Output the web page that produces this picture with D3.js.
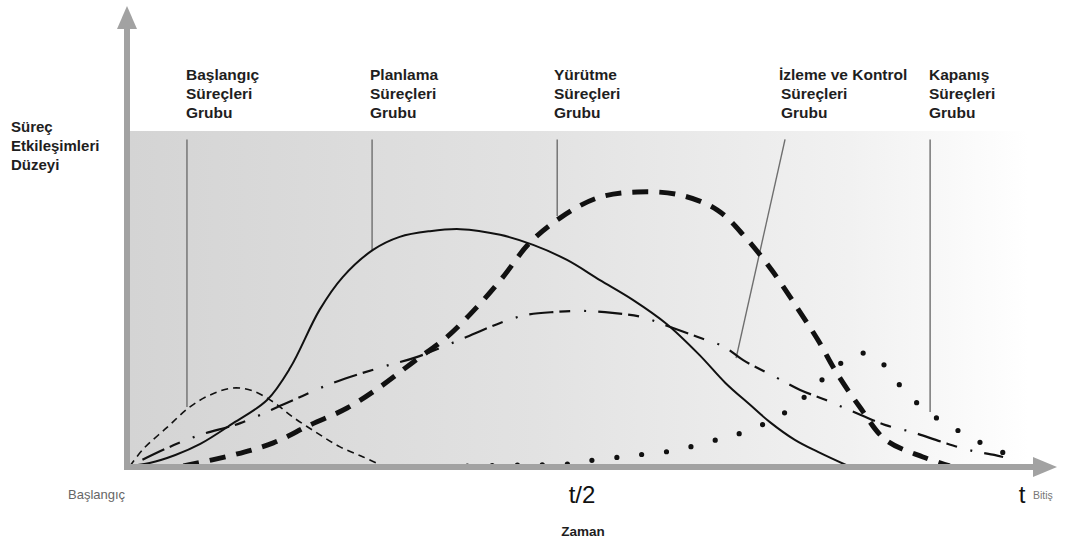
<!DOCTYPE html>
<html>
<head>
<meta charset="utf-8">
<script src="https://cdn.jsdelivr.net/npm/d3@7"></script>
<style>
html,body{margin:0;padding:0;background:#fff;}
svg{display:block;}
text{font-family:"Liberation Sans",Arial,Helvetica,sans-serif;}
</style>
</head>
<body>
<svg id="chart" width="1084" height="543"></svg>
<script>
// ---------- DATA ----------
// time as fraction of total duration t, level as % of chart height
const baslangicX = [0, .015, .042, .067, .090, .116, .138, .161, .183, .210, .236, .262, .284];
const baslangicY = [0, 5.1, 11.6, 17.6, 21.2, 23.3, 22.4, 19.1, 14.6, 9.9, 5.7, 2.7, 0];

const planlamaX = [0, .022, .051, .079, .116, .154, .180, .213, .239, .273, .303, .337, .371, .416, .453, .491, .528, .565, .603, .640, .669, .697, .719, .747, .773, .807];
const planlamaY = [0, .9, 3.3, 6.6, 12.8, 19.7, 29.3, 46.6, 56.4, 64.5, 68.4, 70.1, 70.7, 69.0, 66.0, 61.5, 55.5, 49.6, 42.4, 33.1, 24.8, 18.2, 13.1, 7.8, 4.2, 0];

const yurutmeX = [.060, .116, .161, .202, .244, .281, .318, .356, .390, .419, .449, .483, .525, .570, .618, .660, .691, .721, .749, .773, .794, .820, .849, .891, .921];
const yurutmeY = [0, 3.3, 6.9, 12.2, 17.3, 23.6, 31.0, 38.5, 47.5, 56.4, 66.6, 74.0, 80.0, 81.8, 80.9, 76.4, 68.4, 58.5, 47.5, 37.6, 27.8, 17.6, 7.8, 2.7, 0];

const izlemeX = [0, .042, .079, .124, .176, .228, .284, .322, .378, .416, .445, .479, .507, .542, .575, .601, .638, .668, .689, .727, .753, .782, .816, .849, .879, .912, .942, .971, .981];
const izlemeY = [0, 5.4, 9.3, 12.8, 18.8, 24.8, 29.6, 32.5, 38.5, 42.7, 45.1, 46.0, 46.3, 45.7, 44.5, 42.1, 38.5, 35.5, 31.6, 26.3, 22.7, 19.7, 15.8, 12.2, 10.1, 7.2, 4.8, 3.3, 2.7];

const kapanisX = [.379, .437, .493, .522, .552, .580, .609, .638, .667, .693, .721, .745, .766, .787, .809, .824, .839, .857, .876, .898, .922, .947, .974, 1.001];
const kapanisY = [0, .3, .6, 1.8, 2.7, 3.6, 4.5, 6.3, 8.4, 10.4, 13.7, 17.6, 22.7, 28.1, 32.5, 33.7, 32.5, 26.6, 20.9, 15.8, 11.9, 8.1, 4.8, 1.8];

const groupLabels = [
  ["Başlangıç", "Süreçleri", "Grubu"],
  ["Planlama", "Süreçleri", "Grubu"],
  ["Yürütme", "Süreçleri", "Grubu"],
  ["İzleme ve Kontrol", "Süreçleri", "Grubu"],
  ["Kapanış", "Süreçleri", "Grubu"]
];
const yLabel = ["Süreç", "Etkileşimleri", "Düzeyi"];
const xTickLabels = ["t/2", "t"];
const xTickValues = [0.5, 1];
const startLabel = "Başlangıç";
const endLabel = "Bitiş";
const xTitle = "Zaman";

// leader lines: line top x, curve point (data units)
const leaderTopX = [.064, .272, .480, .736, .899];
const leaderEndX = [.064, .272, .480, .681, .899];
const leaderEndY = [17.6, 64.5, 74.6, 32.2, 16.1];

// ---------- LAYOUT ----------
const svg = d3.select("#chart");
const x = d3.scaleLinear().domain([0, 1]).range([130, 1020]);
const y = d3.scaleLinear().domain([0, 100]).range([466, 131]);

const defs = svg.append("defs");
const grad = defs.append("linearGradient").attr("id", "bg").attr("x1", "0").attr("x2", "1").attr("y1", "0").attr("y2", "0");
grad.append("stop").attr("offset", "0%").attr("stop-color", "#d4d4d4");
grad.append("stop").attr("offset", "45%").attr("stop-color", "#e2e2e2");
grad.append("stop").attr("offset", "80%").attr("stop-color", "#f1f1f1");
grad.append("stop").attr("offset", "100%").attr("stop-color", "#ffffff");

svg.append("rect")
  .attr("x", x(0)).attr("y", y(100))
  .attr("width", x(1.01) - x(0)).attr("height", y(0) - y(100))
  .attr("fill", "url(#bg)");

// leader lines
const topY = y(97.5);
leaderTopX.forEach((tx, i) => {
  svg.append("line")
    .attr("x1", x(tx)).attr("y1", topY)
    .attr("x2", x(leaderEndX[i])).attr("y2", y(leaderEndY[i]))
    .attr("stroke", "#6e6e6e").attr("stroke-width", 1.4);
});

// curves
const line = d3.line().x(d => x(d[0])).y(d => y(d[1])).curve(d3.curveCatmullRom.alpha(0.5));
const zip = (a, b) => a.map((v, i) => [v, b[i]]);

const series = [
  {pts: zip(baslangicX, baslangicY), w: 1.6, dash: "7 5", cap: "butt"},
  {pts: zip(planlamaX, planlamaY), w: 2, dash: null, cap: "butt"},
  {pts: zip(izlemeX, izlemeY), w: 2.2, dash: "2 12 24 6 11 14", cap: "butt"},
  {pts: zip(yurutmeX, yurutmeY), w: 5, dash: "16 11", cap: "butt"},
  {pts: zip(kapanisX, kapanisY), w: 5.2, dash: "0 25", cap: "round"}
];
series.forEach(s => {
  svg.append("path")
    .attr("d", line(s.pts))
    .attr("fill", "none")
    .attr("stroke", "#111")
    .attr("stroke-width", s.w)
    .attr("stroke-linecap", s.cap)
    .attr("stroke-dasharray", s.dash);
});

// axes (arrows)
const axisColor = "#a2a2a2";
svg.append("line").attr("x1", 127).attr("x2", 127).attr("y1", 26).attr("y2", 470)
  .attr("stroke", axisColor).attr("stroke-width", 6);
svg.append("path").attr("d", "M127,6 L137,29 L117,29 Z").attr("fill", axisColor);
svg.append("line").attr("x1", 124).attr("x2", 1036).attr("y1", 467).attr("y2", 467)
  .attr("stroke", axisColor).attr("stroke-width", 6);
svg.append("path").attr("d", "M1057,467 L1033,457 L1033,477 Z").attr("fill", axisColor);

// group labels
const labelX = [186, 370, 554, 779, 929];
groupLabels.forEach((lines, i) => {
  const t = svg.append("text").attr("font-size", 15.5).attr("font-weight", "bold").attr("fill", "#1e1e1e");
  lines.forEach((l, j) => {
    t.append("tspan").attr("x", labelX[i] + (i === 3 && j > 0 ? 2 : 0)).attr("y", 80 + j * 19).text(l);
  });
});

// y label
const yl = svg.append("text").attr("font-size", 15).attr("font-weight", "bold").attr("fill", "#1e1e1e");
yLabel.forEach((l, j) => yl.append("tspan").attr("x", 11).attr("y", 132 + j * 19).text(l));

// x ticks
xTickLabels.forEach((l, i) => {
  svg.append("text").attr("x", x(xTickValues[i]) + (i === 0 ? 7 : 2)).attr("y", 503)
    .attr("text-anchor", "middle").attr("font-size", 24)
    .attr("font-family", "'Liberation Sans Narrow','Liberation Sans',Arial,sans-serif")
    .attr("fill", "#111").text(l);
});
svg.append("text").attr("x", 68).attr("y", 499).attr("font-size", 13).attr("fill", "#666").text(startLabel);
svg.append("text").attr("x", 1033).attr("y", 499).attr("font-size", 10.5).attr("fill", "#777").text(endLabel);
svg.append("text").attr("x", 583).attr("y", 536).attr("text-anchor", "middle")
  .attr("font-size", 13.5).attr("font-weight", "bold").attr("fill", "#1e1e1e").text(xTitle);
</script>
</body>
</html>
